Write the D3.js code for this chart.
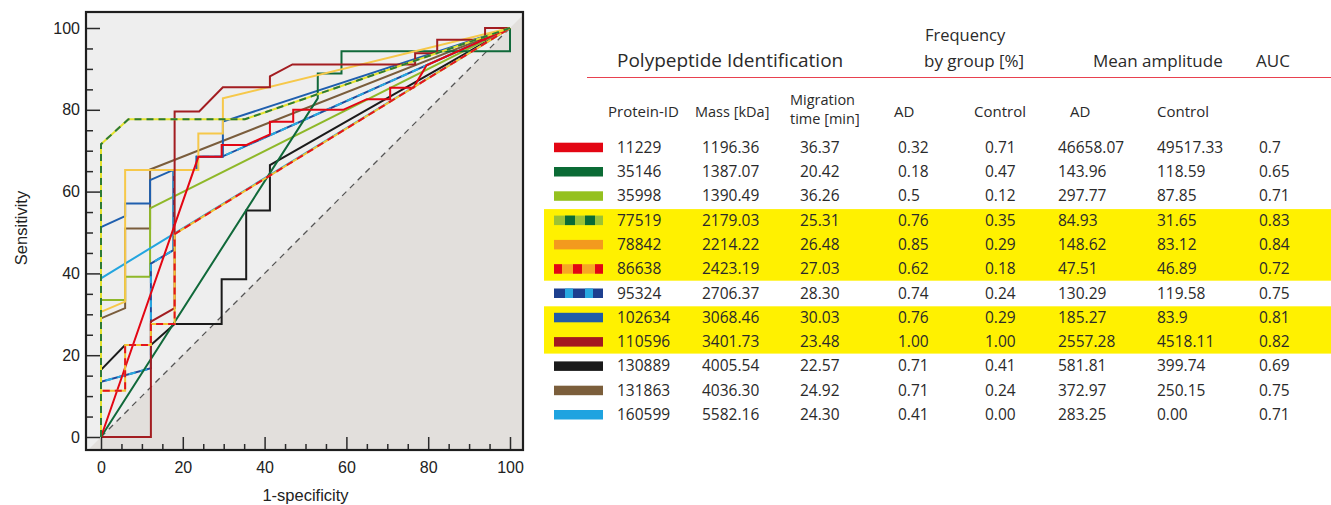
<!DOCTYPE html>
<html>
<head>
<meta charset="utf-8">
<script src="https://cdn.jsdelivr.net/npm/d3@7"></script>
<style>
  html, body { margin: 0; padding: 0; background: #fff; }
  svg { display: block; }
  .axis text { font-family: 'Liberation Sans', Arial, sans-serif; font-size: 16px; fill: #222; }
  .axis line { stroke: #2a2a2a; stroke-width: 1.5; }
  .tbl text { font-family: 'Open Sans', sans-serif; fill: #2a2a2a; }
</style>
</head>
<body>
<script>
// table data
const proteinIds = ['11229', '35146', '35998', '77519', '78842', '86638', '95324', '102634', '110596', '130889', '131863', '160599']
const masses = ['1196.36', '1387.07', '1390.49', '2179.03', '2214.22', '2423.19', '2706.37', '3068.46', '3401.73', '4005.54', '4036.30', '5582.16']
const migrationTimes = ['36.37', '20.42', '36.26', '25.31', '26.48', '27.03', '28.30', '30.03', '23.48', '22.57', '24.92', '24.30']
const freqAD = ['0.32', '0.18', '0.5', '0.76', '0.85', '0.62', '0.74', '0.76', '1.00', '0.71', '0.71', '0.41']
const freqControl = ['0.71', '0.47', '0.12', '0.35', '0.29', '0.18', '0.24', '0.29', '1.00', '0.41', '0.24', '0.00']
const ampAD = ['46658.07', '143.96', '297.77', '84.93', '148.62', '47.51', '130.29', '185.27', '2557.28', '581.81', '372.97', '283.25']
const ampControl = ['49517.33', '118.59', '87.85', '31.65', '83.12', '46.89', '119.58', '83.9', '4518.11', '399.74', '250.15', '0.00']
const auc = ['0.7', '0.65', '0.71', '0.83', '0.84', '0.72', '0.75', '0.81', '0.82', '0.69', '0.75', '0.71']
const highlighted = [false, false, false, true, true, true, false, true, true, false, false, false]

// ROC curves, [1-specificity, sensitivity] in %
const roc11229 = [[0, 0], [23.8, 68.5], [29.5, 68.5], [29.5, 71.4], [35.6, 71.4], [41.3, 74], [41.3, 77.1], [47, 77.1], [47, 80], [59.2, 80], [65, 82.6], [70.7, 82.6], [70.7, 85.4], [76.4, 85.4], [79.6, 90.9], [100, 100]]
const roc35146 = [[0, 0], [53, 82.8], [53, 88.9], [58.8, 88.9], [58.8, 94.3], [100, 94.3], [100, 100]]
const roc35998 = [[0, 0], [0, 33.5], [5.9, 33.5], [5.9, 39.2], [12, 39.2], [12, 55.9], [100, 100]]
const roc77519 = [[0, 0], [0, 71.6], [6.7, 77.7], [35.2, 77.7], [100, 100]]
const roc78842 = [[0, 0], [0, 30.6], [5.9, 33.1], [5.9, 65.3], [23.8, 65.3], [23.8, 74.2], [29.8, 74.2], [29.8, 82.8], [100, 100]]
const roc86638 = [[0, 0], [0, 11.3], [5.9, 11.3], [5.9, 22.5], [12.2, 22.5], [12.2, 27.6], [18, 27.6], [18, 49.6], [100, 100]]
const roc95324 = [[0, 0], [0, 13.5], [12.2, 16.8], [12.2, 42.4], [17.7, 45.7], [17.7, 65.3], [23.4, 65.3], [23.4, 68.5], [29.5, 68.5], [100, 100]]
const roc102634 = [[0, 0], [0, 51.3], [5.9, 54], [5.9, 57.1], [12, 57.1], [12, 62.8], [17.7, 65.3], [23.4, 65.3], [23.4, 68.5], [29.8, 68.5], [29.8, 77.1], [100, 100]]
const roc110596 = [[0, 0], [12.2, 0], [12.2, 28.2], [18, 31.5], [18, 79.6], [24, 79.6], [29.8, 85.5], [41.3, 85.5], [41.3, 88.2], [46.8, 91.1], [76.8, 91.1], [76.8, 93.8], [82.2, 93.8], [82.2, 97.1], [93.9, 97.1], [93.9, 100], [100, 100]]
const roc130889 = [[0, 0], [0, 16.4], [5.9, 22.5], [12.2, 22.5], [18, 27.6], [29.5, 27.6], [29.5, 38.6], [35.5, 38.6], [35.5, 55.4], [41.3, 55.4], [41.3, 66.5], [100, 100]]
const roc131863 = [[0, 0], [0, 29], [5.9, 31.5], [5.9, 51], [12, 51], [12, 65.4], [100, 100]]
const roc160599 = [[0, 0], [0, 38.8], [17.7, 49.6], [100, 100]]

const axisTicks = [0, 20, 40, 60, 80, 100]
const minorTicks = [5, 10, 15, 25, 30, 35, 45, 50, 55, 65, 70, 75, 85, 90, 95]

// styles (plot line colour, optional dash colour; legend swatch)
const styles = {
  '11229': { line: '#e30613', swatch: '#e30613' },
  '35146': { line: '#10693a', swatch: '#0b6b35' },
  '35998': { line: '#8fb829', swatch: '#95c11f' },
  '77519': { line: '#e4e22e', dash: '#2d7a34', swatch: '#9cc234', marks: '#0b6b35', at: [[11, 21], [31, 41]] },
  '78842': { line: '#f6c84a', swatch: '#f39a1e' },
  '86638': { line: '#f4c232', dash: '#e3141e', swatch: '#f7a823', marks: '#e30613', at: [[0, 8], [19, 28], [41, 49]] },
  '95324': { line: '#1e4b9c', dash: '#27a9e1', swatch: '#1d3f8f', marks: '#29a8e0', at: [[11, 19], [31, 39]] },
  '102634': { line: '#1f5fae', swatch: '#215ca8' },
  '110596': { line: '#a31d21', swatch: '#a3191f' },
  '130889': { line: '#1b1b1b', swatch: '#1a1a1a' },
  '131863': { line: '#7a5d3c', swatch: '#7b5e3b' },
  '160599': { line: '#23a5df', swatch: '#1ea3e0' }
}

const curves = [
  ['130889', roc130889], ['131863', roc131863], ['35998', roc35998], ['160599', roc160599],
  ['95324', roc95324], ['102634', roc102634], ['35146', roc35146], ['78842', roc78842],
  ['110596', roc110596], ['11229', roc11229], ['86638', roc86638], ['77519', roc77519]
]

let width = 1331
let height = 505

let svg = d3.select('body').append('svg')
  .attr('width', width)
  .attr('height', height)

// ---- ROC plot ----
let x = d3.scaleLinear().domain([0, 100]).range([101, 510])
let y = d3.scaleLinear().domain([0, 100]).range([437, 28])
let frame = { left: 86, top: 12, right: 523, bottom: 450 }

svg.append('defs').append('clipPath').attr('id', 'clip')
  .append('rect')
  .attr('x', frame.left).attr('y', frame.top)
  .attr('width', frame.right - frame.left).attr('height', frame.bottom - frame.top)

let plot = svg.append('g').attr('clip-path', 'url(#clip)')

plot.append('rect')
  .attr('x', frame.left).attr('y', frame.top)
  .attr('width', frame.right - frame.left).attr('height', frame.bottom - frame.top)
  .attr('fill', '#eeeeee')

let line = d3.line().x(d => x(d[0])).y(d => y(d[1]))

plot.append('path')
  .attr('d', line([[-10, -10], [120, -10], [120, 120]]) + 'Z')
  .attr('fill', '#e2dfdc')

plot.append('path')
  .attr('d', line([[0, 0], [100, 100]]))
  .attr('stroke', '#555').attr('stroke-width', 1.3)
  .attr('stroke-dasharray', '6,5').attr('fill', 'none')

curves.forEach(function (c) {
  let st = styles[c[0]]
  plot.append('path')
    .attr('d', line(c[1]))
    .attr('fill', 'none')
    .attr('stroke', st.line)
    .attr('stroke-width', 2)
  if (st.dash) {
    plot.append('path')
      .attr('d', line(c[1]))
      .attr('fill', 'none')
      .attr('stroke', st.dash)
      .attr('stroke-width', 2)
      .attr('stroke-dasharray', '7,5')
  }
})

let yAxis = svg.append('g').attr('class', 'axis')
  .attr('transform', 'translate(' + frame.left + ',0)')
  .call(d3.axisLeft(y).tickValues(axisTicks).tickSizeInner(-14).tickSizeOuter(0).tickPadding(6))
yAxis.select('.domain').remove()
let yMinor = svg.append('g').attr('class', 'axis')
  .attr('transform', 'translate(' + frame.left + ',0)')
  .call(d3.axisLeft(y).tickValues(minorTicks).tickSize(-7).tickFormat(''))
yMinor.select('.domain').remove()

let xAxis = svg.append('g').attr('class', 'axis')
  .attr('transform', 'translate(0,' + frame.bottom + ')')
  .call(d3.axisBottom(x).tickValues(axisTicks).tickSizeInner(-13).tickSizeOuter(0).tickPadding(12))
xAxis.select('.domain').remove()
let xMinor = svg.append('g').attr('class', 'axis')
  .attr('transform', 'translate(0,' + frame.bottom + ')')
  .call(d3.axisBottom(x).tickValues(minorTicks).tickSize(-6).tickFormat(''))
xMinor.select('.domain').remove()

svg.append('rect')
  .attr('x', frame.left).attr('y', frame.top)
  .attr('width', frame.right - frame.left).attr('height', frame.bottom - frame.top)
  .attr('fill', 'none').attr('stroke', '#1e1e1e').attr('stroke-width', 2.2)

svg.append('text')
  .attr('transform', 'translate(27,228) rotate(-90)')
  .attr('text-anchor', 'middle')
  .style('font-family', "'Liberation Sans', Arial, sans-serif")
  .style('font-size', '16.5px').style('fill', '#222')
  .text('Sensitivity')

svg.append('text')
  .attr('x', x(50)).attr('y', 501)
  .attr('text-anchor', 'middle')
  .style('font-family', "'Liberation Sans', Arial, sans-serif")
  .style('font-size', '16.5px').style('fill', '#222')
  .text('1-specificity')

// ---- table ----
let tbl = svg.append('g').attr('class', 'tbl')
let rowY = d3.scalePoint().domain(proteinIds).range([152.7, 420])

// highlight bands over consecutive flagged rows
let runs = []
highlighted.forEach(function (h, i) {
  if (!h) return
  let last = runs[runs.length - 1]
  if (last && last[1] === i - 1) last[1] = i
  else runs.push([i, i])
})
tbl.selectAll('.band').data(runs).enter().append('rect')
  .attr('class', 'band')
  .attr('x', 544).attr('width', width - 544)
  .attr('y', d => rowY(proteinIds[d[0]]) - 16.5)
  .attr('height', d => rowY(proteinIds[d[1]]) - rowY(proteinIds[d[0]]) + 23)
  .attr('fill', '#fff100')

let header = [
  { t: 'Polypeptide Identification', x: 617, y: 66.5, s: 19 },
  { t: 'Frequency', x: 925, y: 41, s: 16.5 },
  { t: 'by group [%]', x: 924, y: 66.5, s: 17 },
  { t: 'Mean amplitude', x: 1093, y: 66.5, s: 17 },
  { t: 'AUC', x: 1256, y: 66.5, s: 17 },
  { t: 'Protein-ID', x: 608, y: 116.5, s: 15 },
  { t: 'Mass [kDa]', x: 695, y: 116.5, s: 14.5 },
  { t: 'Migration', x: 790, y: 105, s: 14.5 },
  { t: 'time [min]', x: 790, y: 123.5, s: 14.5 },
  { t: 'AD', x: 894, y: 116.5, s: 15 },
  { t: 'Control', x: 974, y: 116.5, s: 15 },
  { t: 'AD', x: 1070, y: 116.5, s: 15 },
  { t: 'Control', x: 1157, y: 116.5, s: 15 }
]
tbl.selectAll('.hdr').data(header).enter().append('text')
  .attr('class', 'hdr')
  .attr('x', d => d.x).attr('y', d => d.y)
  .style('font-size', d => d.s + 'px')
  .text(d => d.t)

tbl.append('line')
  .attr('x1', 587).attr('x2', width).attr('y1', 77.5).attr('y2', 77.5)
  .attr('stroke', '#e8414f').attr('stroke-width', 1)

let columns = [
  [proteinIds, 617], [masses, 702], [migrationTimes, 800], [freqAD, 898],
  [freqControl, 985], [ampAD, 1058], [ampControl, 1157], [auc, 1259]
]
columns.forEach(function (col) {
  tbl.selectAll(null).data(col[0]).enter().append('text')
    .attr('x', col[1])
    .attr('y', (d, i) => rowY(proteinIds[i]))
    .style('font-size', '15.5px')
    .text(d => d)
})

// legend swatches
let sw = tbl.selectAll('.sw').data(proteinIds).enter().append('g')
  .attr('class', 'sw')
  .attr('transform', d => 'translate(554,' + (rowY(d) - 10) + ')')
sw.append('rect').attr('width', 49).attr('height', 9.5).attr('fill', d => styles[d].swatch)
sw.each(function (d) {
  let st = styles[d]
  if (!st.at) return
  d3.select(this).selectAll('.mk').data(st.at).enter().append('rect')
    .attr('x', m => m[0]).attr('width', m => m[1] - m[0])
    .attr('height', 9.5).attr('fill', st.marks)
})
</script>
</body>
</html>
